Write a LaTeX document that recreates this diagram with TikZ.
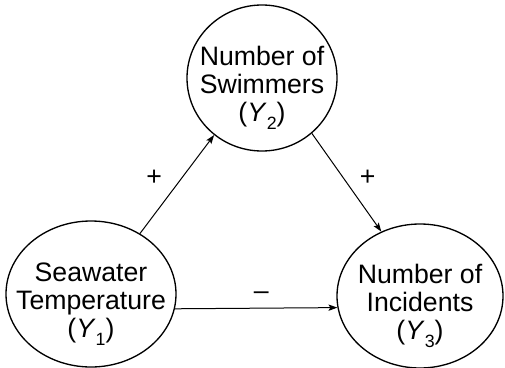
\documentclass[tikz,border=0pt]{standalone}
\usepackage{fontspec}
\setmainfont{Liberation Sans}
\usetikzlibrary{positioning,arrows.meta,shapes.geometric}
\tikzset{
  varnode/.style={ellipse, draw, line width=0.6pt, inner sep=0pt},
  vartext/.style={font=\fontsize{12}{12.6}\selectfont, align=center, inner sep=0pt, yshift=-4.5pt},
  causearrow/.style={-{Stealth[length=4pt, width=2.8pt, inset=0.8pt]}, line width=0.45pt},
  signlabel/.style={font=\fontsize{12}{12.6}\selectfont, inner sep=0pt},
}
\newcommand{\varsub}[1]{\raisebox{-0.55ex}{\fontsize{8}{8}\selectfont #1}}

\begin{document}
\begin{tikzpicture}[x=0.45pt, y=-0.45pt]
  \useasboundingbox (0,0) rectangle (505,368);
  % the three variables
  \node[varnode, minimum width=67.5pt, minimum height=65.7pt] (swim) at (262,78) {};
  \node[vartext] (swim-text) at (swim) {Number of\\Swimmers\\(\textit{Y}\varsub{2})};
  \node[varnode, minimum width=76.5pt, minimum height=65.7pt] (temp) at (91,294) {};
  \node[vartext] (temp-text) at (temp) {Seawater\\Temperature\\(\textit{Y}\varsub{1})};
  \node[varnode, minimum width=74.7pt, minimum height=64.8pt] (inc) at (420,296) {};
  \node[vartext] (inc-text) at (inc) {Number of\\Incidents\\(\textit{Y}\varsub{3})};
  % effects with their signs
  \draw[causearrow] (temp.51) -- (swim.230)
    node[signlabel, midway, shift={(-23,-6)}] (plus-a) {+};
  \draw[causearrow] (swim.-48) -- (inc.121)
    node[signlabel, midway, shift={(21,-5)}] (plus-b) {+};
  \draw[causearrow] (temp.-10) -- (inc.188)
    node[signlabel, midway, shift={(5,-13)}] (minus) {–};
\end{tikzpicture}
\end{document}
